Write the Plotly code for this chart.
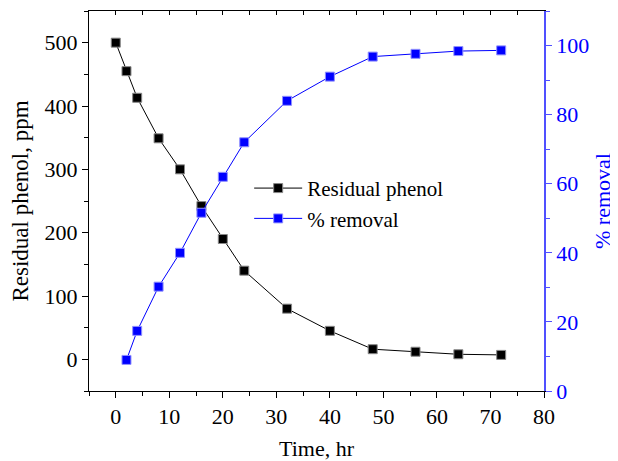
import plotly.graph_objects as go

time_resid = [0, 2, 4, 8, 12, 16, 20, 24, 32, 40, 48, 56, 64, 72]
residual_phenol = [500, 455, 413, 349, 300, 242, 190, 140, 80, 45, 16, 12, 8, 7]
time_removal = [2, 4, 8, 12, 16, 20, 24, 32, 40, 48, 56, 64, 72]
percent_removal = [9, 17.4, 30.2, 40, 51.6, 62, 72, 84, 91, 96.8, 97.6, 98.4, 98.6]

FONT = "Liberation Serif, Times New Roman, serif"
BLUE = "#0000ff"
AXBLUE = "#5050ff"
FS = 22

fig = go.Figure()
fig.add_trace(go.Scatter(
    x=time_resid, y=residual_phenol, name="Residual phenol",
    mode="lines+markers",
    line=dict(color="black", width=1),
    marker=dict(symbol="square", size=9, color="black", line=dict(color="#888888", width=1)),
))
fig.add_trace(go.Scatter(
    x=time_removal, y=percent_removal, name="% removal", yaxis="y2",
    mode="lines+markers",
    line=dict(color=BLUE, width=1),
    marker=dict(symbol="square", size=9, color=BLUE, line=dict(color="#9090ff", width=1)),
))
# helper trace to activate the top axis carrying inward ticks
fig.add_trace(go.Scatter(x=[None], y=[None], xaxis="x2", showlegend=False, hoverinfo="skip"))

fig.update_layout(
    width=610, height=453,
    margin=dict(l=81, r=74, t=3, b=70, autoexpand=False),
    paper_bgcolor="white", plot_bgcolor="white",
    font=dict(family=FONT, size=FS, color="black"),
    showlegend=True,
    legend=dict(x=0.352, y=0.587, xanchor="left", yanchor="top",
                bgcolor="rgba(0,0,0,0)", font=dict(size=21, family=FONT),
                itemwidth=48, tracegroupgap=0),
    xaxis=dict(
        range=[-5, 80], dtick=10, tick0=0,
        showgrid=False, zeroline=False,
        showline=True, linecolor="black", linewidth=1, mirror=True,
        ticks="outside", ticklen=6, tickcolor="black",
        minor=dict(dtick=5, ticks="outside", ticklen=4, tickcolor="black"),
        title=dict(text="Time, hr", font=dict(size=FS, family=FONT), standoff=20),
        tickfont=dict(size=FS, family=FONT),
        automargin=False,
    ),
    xaxis2=dict(
        overlaying="x", side="top", matches="x", range=[-5, 80],
        showgrid=False, zeroline=False, showticklabels=False,
        ticks="inside", ticklen=4, dtick=5, tick0=0, tickcolor="black",
        showline=False, automargin=False,
    ),
    yaxis=dict(
        range=[-50, 550], dtick=100, tick0=0,
        showgrid=False, zeroline=False,
        showline=True, linecolor="black", linewidth=1,
        ticks="outside", ticklen=6, tickcolor="black",
        minor=dict(dtick=50, ticks="outside", ticklen=4, tickcolor="black"),
        title=dict(text="Residual phenol, ppm", font=dict(size=23, family=FONT), standoff=12),
        tickfont=dict(size=FS, family=FONT),
        automargin=False,
    ),
    yaxis2=dict(
        overlaying="y", side="right", anchor="x",
        range=[0, 110], dtick=20, tick0=0,
        showgrid=False, zeroline=False,
        showline=True, linecolor=AXBLUE, linewidth=1.5,
        ticks="outside", ticklen=6, tickcolor=AXBLUE,
        minor=dict(dtick=10, ticks="outside", ticklen=4, tickcolor=AXBLUE),
        title=dict(text="% removal", font=dict(size=FS, family=FONT, color=BLUE), standoff=6),
        tickfont=dict(size=FS, family=FONT, color=BLUE),
        automargin=False,
    ),
)

fig.write_html("out.html")
